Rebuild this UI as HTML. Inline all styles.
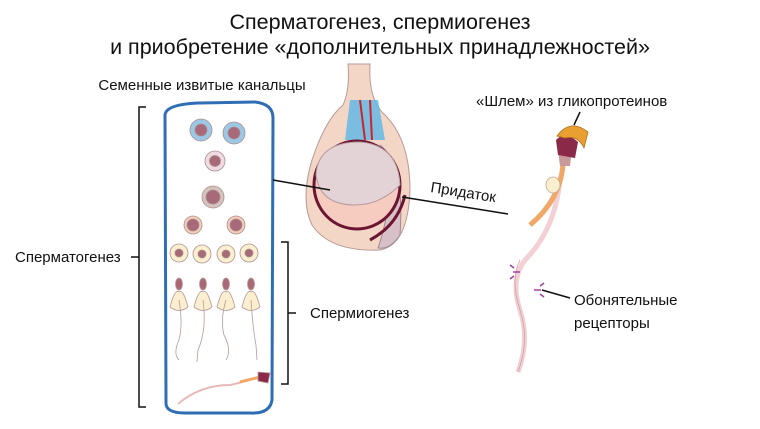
<!DOCTYPE html>
<html><head><meta charset="utf-8"><style>
html,body{margin:0;padding:0;background:#fff}
svg{display:block}
text{font-family:"Liberation Sans","DejaVu Sans",sans-serif;fill:#111}
</style></head><body>
<svg width="760" height="429" viewBox="0 0 760 429">
<text x="380" y="29" font-size="21.5" text-anchor="middle">Сперматогенез, спермиогенез</text>
<text x="380" y="54" font-size="21.5" text-anchor="middle">и приобретение «дополнительных принадлежностей»</text>
<text x="202" y="90" font-size="15" text-anchor="middle">Семенные извитые канальцы</text>
<!-- left bracket -->
<path d="M146 107 H139 V407 H146 M139 257 H131" fill="none" stroke="#111" stroke-width="1.5"/>
<text x="15" y="262" font-size="15">Сперматогенез</text>
<!-- tubule -->
<path d="M165 115 Q166 104 200 103 L255 102 Q273 104 273 118 L272 400 Q270 414 250 413 L185 413 Q165 413 166 402 Z" fill="#fff" stroke="#2f6eb5" stroke-width="3"/>
<g stroke="#aa8f8f" stroke-width="0.8">
<circle cx="201" cy="130" r="11" fill="#9cc8e6"/><circle cx="201" cy="130" r="6" fill="#a86a78"/>
<circle cx="234" cy="133" r="11" fill="#9cc8e6"/><circle cx="234" cy="133" r="6" fill="#a86a78"/>
<circle cx="215" cy="161" r="10" fill="#f0dbe3"/><circle cx="215" cy="161" r="5.5" fill="#a86a78"/>
<circle cx="213" cy="197" r="11" fill="#d6c3bd"/><circle cx="213" cy="197" r="7" fill="#a86a78"/>
<circle cx="193" cy="225" r="9" fill="#f5cdb8"/><circle cx="193" cy="225" r="6" fill="#a86a78"/>
<circle cx="236" cy="225" r="9" fill="#f5cdb8"/><circle cx="236" cy="225" r="6" fill="#a86a78"/>
<circle cx="179" cy="253" r="9" fill="#fbefcf"/><circle cx="179" cy="253" r="4" fill="#a86a78"/>
<circle cx="202" cy="254" r="9" fill="#fbefcf"/><circle cx="202" cy="254" r="4" fill="#a86a78"/>
<circle cx="226" cy="254" r="9" fill="#fbefcf"/><circle cx="226" cy="254" r="4" fill="#a86a78"/>
<circle cx="249" cy="253" r="9" fill="#fbefcf"/><circle cx="249" cy="253" r="4" fill="#a86a78"/>
</g>
<g stroke="#b89a9a" stroke-width="0.8">
<g transform="translate(179,0)"><path d="M-9 307 Q-4 288 0 292 Q4 288 9 307 Q0 314 -9 307Z" fill="#fbefcf"/><ellipse cx="0" cy="284" rx="3.5" ry="6" fill="#a86a78"/><path d="M0 300 Q5 330 -2 345 Q-5 355 0 360" fill="none"/></g>
<g transform="translate(203,0)"><path d="M-9 307 Q-4 288 0 292 Q4 288 9 307 Q0 314 -9 307Z" fill="#fbefcf"/><ellipse cx="0" cy="284" rx="3.5" ry="6" fill="#a86a78"/><path d="M0 300 Q4 330 -5 350 L-6 362" fill="none"/></g>
<g transform="translate(226,0)"><path d="M-9 307 Q-4 288 0 292 Q4 288 9 307 Q0 314 -9 307Z" fill="#fbefcf"/><ellipse cx="0" cy="284" rx="3.5" ry="6" fill="#a86a78"/><path d="M0 300 Q-6 320 -2 335 Q6 350 0 360" fill="none"/></g>
<g transform="translate(251,0)"><path d="M-9 307 Q-4 288 0 292 Q4 288 9 307 Q0 314 -9 307Z" fill="#fbefcf"/><ellipse cx="0" cy="284" rx="3.5" ry="6" fill="#a86a78"/><path d="M0 300 Q2 330 5 345 L6 360" fill="none"/></g>
<path d="M178 404 Q200 385 230 385 Q240 383 255 378" fill="none" stroke="#e8b8b8" stroke-width="2"/>
<path d="M240 382 L260 377" stroke="#f0a868" stroke-width="3"/>
<path d="M258 372 L270 373 L268 383 L258 381Z" fill="#8b2a48"/>
</g>
<!-- right bracket -->
<path d="M281 242 H288 V384 H281 M288 313 H296" fill="none" stroke="#111" stroke-width="1.5"/>
<text x="310" y="318" font-size="15">Спермиогенез</text>
<!-- testis -->
<path d="M348 64 L370 64 Q368 100 385 115 Q410 140 410 190 Q408 245 380 250 Q330 252 312 225 Q300 200 312 160 Q325 120 343 105 Q350 90 348 64Z" fill="#f3d6c6" stroke="#b89a9a"/>
<path d="M350 100 L378 100 L385 140 L345 140Z" fill="#5bb7e6" opacity="0.8"/>
<path d="M360 100 L365 140 M370 100 L372 140" stroke="#d0222a" stroke-width="2"/>
<path d="M380 145 Q405 165 400 235 Q390 250 378 248 Q395 200 385 150Z" fill="#d8c0c8" stroke="#a08890"/>
<ellipse cx="357" cy="185" rx="43" ry="44" fill="#f5ccbf" stroke="#6b1532" stroke-width="3"/>
<path d="M316 175 Q318 142 360 142 Q398 145 400 185 Q380 205 355 205 Q320 205 316 175Z" fill="#e3d3d6" stroke="#b89aa0"/>
<path d="M405 195 Q398 225 370 240" fill="none" stroke="#6b1532" stroke-width="3"/>
<line x1="273" y1="180" x2="330" y2="190" stroke="#111" stroke-width="1.5"/>
<line x1="402" y1="197" x2="508" y2="214" stroke="#111" stroke-width="1.5"/>
<text x="430" y="192" font-size="15" transform="rotate(9 430 192)">Придаток</text>
<!-- right sperm -->
<text x="476" y="106" font-size="15">«Шлем» из гликопротеинов</text>
<line x1="580" y1="112" x2="574" y2="125" stroke="#111" stroke-width="1.5"/>
<path d="M560 180 Q555 230 525 260 Q510 280 520 310 Q530 340 518 372" fill="none" stroke="#f4d0d4" stroke-width="5"/>
<path d="M520 260 Q510 280 520 310 Q530 340 518 372" fill="none" stroke="#c8a0a0" stroke-width="0.8"/>
<path d="M563 165 Q560 200 530 225" fill="none" stroke="#f0a868" stroke-width="5"/>
<ellipse cx="553" cy="185" rx="7" ry="8" fill="#fbefcf" stroke="#c0a890" stroke-width="0.8"/>
<path d="M558 150 L572 150 L570 166 L560 166Z" fill="#c99a9a"/>
<path d="M556 140 Q565 130 578 142 L575 158 L558 155Z" fill="#8b2a48"/>
<path d="M557 136 Q570 118 588 132 L584 148 Q578 135 565 138Z" fill="#e9a030" stroke="#b07020" stroke-width="0.8"/>
<g stroke="#a040a0" stroke-width="1.6" fill="none">
<path d="M520 272 L513 272 M514 268 L510 265 M514 276 L510 279"/>
<path d="M534 290 L541 290 M540 286 L544 283 M540 294 L544 297"/>
</g>
<line x1="542" y1="290" x2="570" y2="298" stroke="#111" stroke-width="1.5"/>
<text x="574" y="305" font-size="15">Обонятельные</text>
<text x="574" y="328" font-size="15">рецепторы</text>
</svg>
</body></html>
